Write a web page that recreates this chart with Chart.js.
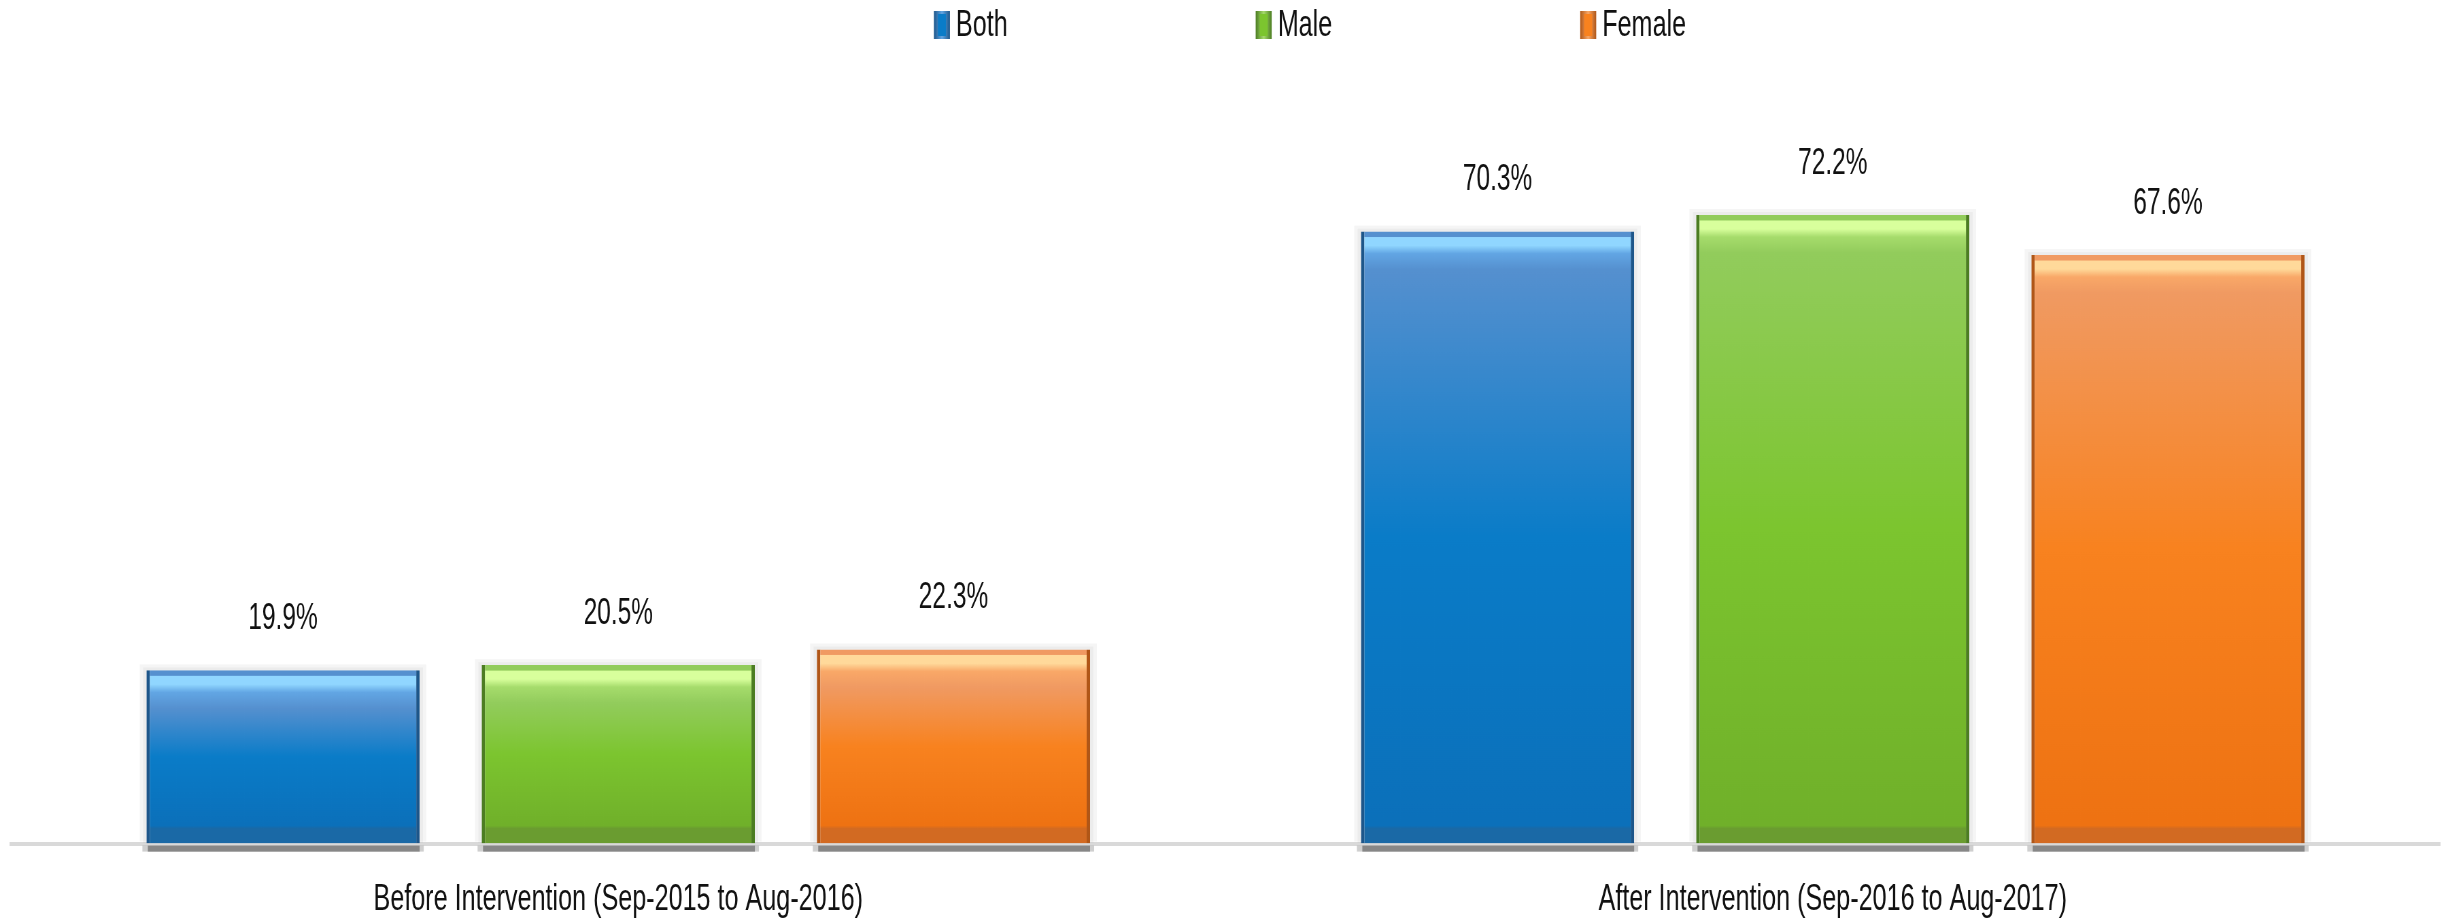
<!DOCTYPE html>
<html>
<head>
<meta charset="utf-8">
<script src="https://cdn.jsdelivr.net/npm/chart.js@4/dist/chart.umd.min.js"></script>
<style>
html,body{margin:0;padding:0;background:#fff;overflow:hidden;}
#wrap{width:2448px;height:919px;}
canvas{display:block;}
</style>
</head>
<body>
<div id="wrap"><canvas id="c" width="3600" height="919" style="width:2448px;height:919px;"></canvas></div>
<script>
const categories = ['Before Intervention (Sep-2015 to Aug-2016)', 'After Intervention (Sep-2016 to Aug-2017)'];
const seriesNames = ['Both', 'Male', 'Female'];
const bothValues = [19.9, 70.3];
const maleValues = [20.5, 72.2];
const femaleValues = [22.3, 67.6];

const palettes = [
  {top:'#5590cf', hi:'#90d6ff', sub:'#62a6e4', mid:'#0a7cc8', bot:'#0b70ba', base:'#1a69a6', border:'#1d568a'},
  {top:'#92cc5c', hi:'#d8ff9c', sub:'#a6dc6c', mid:'#7cc52f', bot:'#70b02a', base:'#6a9c30', border:'#4c7d22'},
  {top:'#f09a62', hi:'#ffd99a', sub:'#f9a868', mid:'#f8821f', bot:'#ee7212', base:'#d26a22', border:'#b05617'}
];

// canvas is drawn wider and displayed condensed (like the reference's narrow text)
const CANVAS_W = 3600, SHOW_W = 2448;
const K = CANVAS_W / SHOW_W;

function makeFill(pal){
  return function(ctx){
    const chart = ctx.chart;
    const ys = chart.scales && chart.scales.y;
    if (!chart.chartArea || !ys || ctx.raw == null) return pal.mid;
    const top = ys.getPixelForValue(ctx.raw);
    const bottom = ys.getPixelForValue(0);
    if (!(bottom > top)) return pal.mid;
    const g = chart.ctx.createLinearGradient(0, top, 0, bottom);
    const h = bottom - top;
    const f = v => Math.min(1, Math.max(0, v / h));
    g.addColorStop(0, pal.top);
    g.addColorStop(f(5), pal.top);
    g.addColorStop(f(6), pal.hi);
    g.addColorStop(f(14), pal.hi);
    g.addColorStop(f(22), pal.sub);
    g.addColorStop(f(38), pal.top);
    g.addColorStop(0.5, pal.mid);
    g.addColorStop(f(h - 18), pal.bot);
    g.addColorStop(f(h - 15), pal.base);
    g.addColorStop(1, pal.base);
    return g;
  };
}

const seriesValues = [bothValues, maleValues, femaleValues];

const datasets = seriesNames.map((name, i) => ({
  label: name,
  data: seriesValues[i],
  backgroundColor: makeFill(palettes[i]),
  borderColor: palettes[i].border,
  borderWidth: {left: 5, right: 5, top: 0, bottom: 0},
  borderSkipped: false,
  categoryPercentage: 0.828,
  barPercentage: 0.815
}));

const fontFam = '"Liberation Sans", Arial, sans-serif';

const decorPlugin = {
  id: 'decor',
  beforeDatasetsDraw(chart) {
    const c = chart.ctx;
    const ys = chart.scales.y;
    const base = ys.getPixelForValue(0);
    c.save();
    chart.data.datasets.forEach((ds, di) => {
      chart.getDatasetMeta(di).data.forEach(bar => {
        const w = bar.width;
        c.fillStyle = 'rgba(0,0,0,0.04)';
        c.fillRect(bar.x - w/2 - 10, bar.y - 6, w + 20, base - bar.y + 4);
        c.fillStyle = 'rgba(0,0,0,0.04)';
        c.fillRect(bar.x - w/2 - 5, bar.y - 3, w + 10, base - bar.y + 2);
        c.fillStyle = '#888888';
        c.fillRect(bar.x - w/2 + 2, base + 2, w - 2, 6);
        c.fillStyle = 'rgba(136,136,136,0.4)';
        c.fillRect(bar.x - w/2 - 6, base + 2, w + 12, 6);
      });
    });
    c.restore();
  },
  afterDatasetsDraw(chart) {
    const c = chart.ctx;
    c.save();
    c.font = '36px ' + fontFam;
    c.fillStyle = '#111';
    c.textAlign = 'center';
    c.textBaseline = 'middle';
    chart.data.datasets.forEach((ds, di) => {
      chart.getDatasetMeta(di).data.forEach((bar, j) => {
        const v = ds.data[j];
        c.fillText(v.toFixed(1) + '%', bar.x, bar.y - 51);
      });
    });
    c.restore();
  },
  afterDraw(chart) {
    // legend
    const c = chart.ctx;
    c.save();
    c.font = '37px ' + fontFam;
    c.textBaseline = 'middle';
    c.textAlign = 'left';
    const boxW = 16 * K, boxH = 28, gap = 6 * K, pad = 248 * K;
    const widths = seriesNames.map(n => boxW + gap + c.measureText(n).width);
    const total = widths.reduce((a, b) => a + b, 0) + pad * (widths.length - 1);
    let x = chart.width / 2 + 86 * K - total / 2;
    const yc = 25;
    seriesNames.forEach((n, i) => {
      const pal = palettes[i];
      const g = c.createLinearGradient(x, 0, x + boxW, 0);
      g.addColorStop(0, pal.border);
      g.addColorStop(0.5, pal.sub);
      g.addColorStop(1, pal.border);
      c.fillStyle = g;
      c.fillRect(x, yc - boxH / 2, boxW, boxH);
      c.fillStyle = pal.mid;
      c.fillRect(x + boxW * 0.25, yc - boxH / 2 + 3, boxW * 0.5, boxH - 6);
      c.fillStyle = '#111';
      c.fillText(n, x + boxW + gap, yc + 1);
      x += widths[i] + pad;
    });
    c.restore();
  }
};

new Chart(document.getElementById('c'), {
  type: 'bar',
  data: { labels: categories, datasets },
  plugins: [decorPlugin],
  options: {
    responsive: false,
    maintainAspectRatio: false,
    animation: false,
    devicePixelRatio: 1,
    layout: { padding: { left: 11 * K, right: 8 * K, top: 60, bottom: -37 } },
    plugins: {
      legend: { display: false },
      tooltip: { enabled: false }
    },
    scales: {
      x: {
        grid: { display: false, drawTicks: false },
        border: { display: true, color: '#d9d9d9', width: 4 },
        ticks: { font: { family: fontFam, size: 37 }, color: '#111', padding: 34 }
      },
      y: {
        display: false,
        min: 0,
        max: 90
      }
    }
  }
});
</script>
</body>
</html>
